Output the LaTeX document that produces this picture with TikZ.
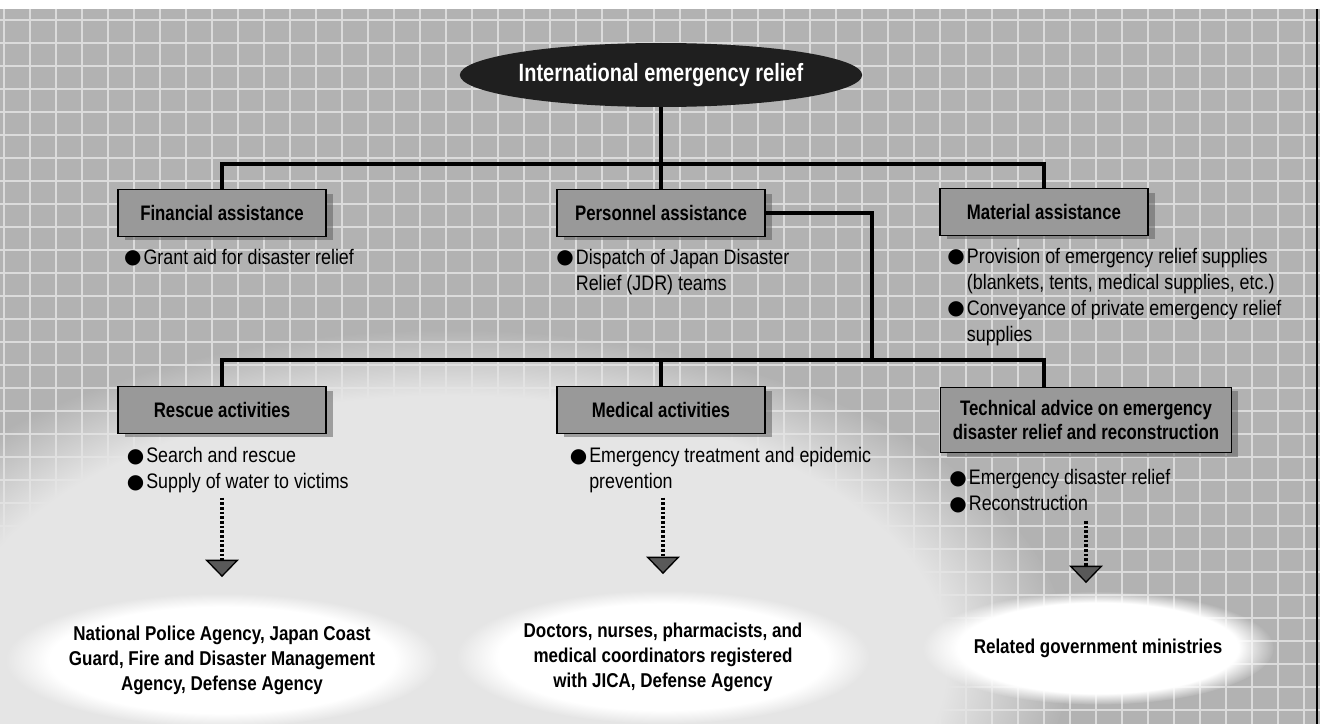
\documentclass[tikz,border=0pt]{standalone}
\usepackage{fontspec}
\setmainfont{Liberation Sans}[FakeStretch=0.85]
\newfontfamily\headfont{Liberation Sans}[FakeStretch=0.8]
\newfontfamily\symfont{DejaVu Sans}
\usepackage{xcolor}
\usepackage{tikz}
\usetikzlibrary{shapes.geometric, arrows.meta, positioning, shadows, fadings}
\definecolor{bggray}{gray}{0.7}
\definecolor{gridline}{gray}{0.86}
\definecolor{lightbg}{gray}{0.9}
\definecolor{boxgray}{gray}{0.6}
\definecolor{shadowgray}{gray}{0.35}
\definecolor{ovalblack}{gray}{0.12}
\newcommand{\blt}{\raisebox{0.6pt}{\symfont\fontsize{15pt}{15pt}\selectfont ●}\kern1.5pt}
\newcommand{\ind}{\phantom{\blt}}

\begin{document}
\begin{tikzpicture}[
    x=0.75pt, y=-0.75pt,
    node distance=9pt,
    topoval/.style={ellipse, fill=ovalblack, text=white, minimum width=241pt, minimum height=48pt, inner sep=0pt, font=\headfont\bfseries\fontsize{18.75}{22}\selectfont},
    headbox/.style={rectangle, draw=black, line width=1.2pt, fill=boxgray, minimum width=156pt, minimum height=35pt, align=center, inner sep=2pt, font=\headfont\bfseries\fontsize{15.75}{17.5}\selectfont, drop shadow={shadow xshift=5pt, shadow yshift=-3pt, fill=shadowgray}},
    itemlist/.style={align=left, inner sep=0pt, font=\fontsize{15.75}{19.5}\selectfont},
    bodyoval/.style={ellipse, fill=white, path fading=circle with fuzzy edge 20 percent, inner sep=0pt, align=center, font=\bfseries\fontsize{15}{18.75}\selectfont},
    link/.style={line width=3.5pt},
    flowarrow/.style={line width=3pt, dash pattern=on 2pt off 1.5pt, -{Triangle[width=25pt, length=13pt, line width=1pt, fill=shadowgray]}}
]
\useasboundingbox (0,0) rectangle (1320,724);

% Background
\fill[white] (0,0) rectangle (1320,724);
\fill[bggray] (0,9) rectangle (1320,724);
\foreach \gx in {4,30,...,1320} \draw[gridline, line width=0.9pt] (\gx,9) -- (\gx,724);
\foreach \gy in {20,43,...,724} \draw[gridline, line width=0.9pt] (0,\gy) -- (1320,\gy);
\fill[lightbg, path fading=circle with fuzzy edge 20 percent] (450,660) ellipse [x radius=620, y radius=330];
\draw[line width=1.2pt] (1317,9) -- (1317,724);

% Top
\node[topoval] (top) at (661,75) {International emergency relief};

% Assistance types
\node[headbox] (fin) at (222,213) {Financial assistance};
\node[headbox] (pers) at (661,213) {Personnel assistance};
\node[headbox] (mat) at (1044,212) {Material assistance};

\node[itemlist, below right=9pt and 5pt of fin.south west] (finlist) {\blt Grant aid for disaster relief};
\node[itemlist, below right=9pt and 0pt of pers.south west] (perslist) {\blt Dispatch of Japan Disaster\\\ind Relief (JDR) teams};
\node[itemlist, below right=9pt and 6pt of mat.south west] (matlist) {\blt Provision of emergency relief supplies\\\ind (blankets, tents, medical supplies, etc.)\\\blt Conveyance of private emergency relief\\\ind supplies};

% JDR teams
\coordinate (bar1) at (661,164);
\coordinate (bar2) at (872,360);
\node[headbox] (resc) at (222,410) {Rescue activities};
\node[headbox] (med) at (661,410) {Medical activities};
\node[headbox, minimum width=218pt, minimum height=49pt] (tech) at (1086,420) {Technical advice on emergency\\disaster relief and reconstruction};

\node[itemlist, below right=10pt and 7pt of resc.south west] (resclist) {\blt Search and rescue\\\blt Supply of water to victims};
\node[itemlist, below right=10pt and 10pt of med.south west] (medlist) {\blt Emergency treatment and epidemic\\\ind prevention};
\node[itemlist, below right=12pt and 7pt of tech.south west] (techlist) {\blt Emergency disaster relief\\\blt Reconstruction};

% Who is sent
\node[bodyoval, minimum width=320pt, minimum height=100pt] (police) at (222,660) {National Police Agency, Japan Coast\\Guard, Fire and Disaster Management\\Agency, Defense Agency};
\node[bodyoval, minimum width=310pt, minimum height=100pt] (doctors) at (663,657) {Doctors, nurses, pharmacists, and\\medical coordinators registered\\with JICA, Defense Agency};
\node[bodyoval, minimum width=260pt, minimum height=85pt] (ministries) at (1098,648) {Related government ministries};

% Lines
\draw[link] (top) -- (bar1);
\draw[link] (fin.north) |- (bar1) -| (mat.north);
\draw[link] (bar1) -- (pers);
\draw[link] (pers.east) -| (bar2);
\draw[link] (resc.north) |- (bar2) -| (mat |- tech.north);
\draw[link] (med |- bar2) -- (med);

% Arrows
\draw[flowarrow, shorten <=3pt, shorten >=12pt] (police.north |- resclist.south) -- (police.north);
\draw[flowarrow, shorten <=3pt, shorten >=12pt] (doctors.north |- medlist.south) -- (doctors.north);
\draw[flowarrow, shorten <=6pt, shorten >=6pt] (tech.south |- techlist.south) -- (tech.south |- ministries.north);

\end{tikzpicture}
\end{document}
